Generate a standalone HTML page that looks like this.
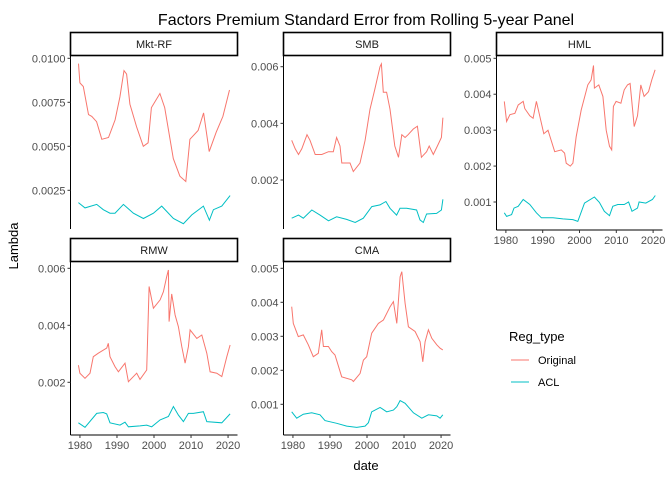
<!DOCTYPE html>
<html><head><meta charset="utf-8"><style>
body{margin:0;background:#fff;}
svg text{font-family:"Liberation Sans",Arial,sans-serif;}
</style></head><body>
<svg id="chart" width="672" height="480" viewBox="0 0 672 480" xmlns="http://www.w3.org/2000/svg">
<rect width="672" height="480" fill="#fff"/>
<text x="366" y="25" font-size="16" text-anchor="middle" fill="#000">Factors Premium Standard Error from Rolling 5-year Panel</text>
<text transform="translate(18,246) rotate(-90)" font-size="13" text-anchor="middle" fill="#000">Lambda</text>
<text x="366" y="470" font-size="13" text-anchor="middle" fill="#000">date</text>
<g>
<text x="509" y="341" font-size="13" fill="#000">Reg_type</text>
<line x1="511" x2="529" y1="360" y2="360" stroke="#F8766D" stroke-width="1"/>
<text x="538" y="364" font-size="11" fill="#000">Original</text>
<line x1="511" x2="529" y1="382" y2="382" stroke="#00BFC4" stroke-width="1"/>
<text x="538" y="386" font-size="11" fill="#000">ACL</text>
</g>
<g id="panels"></g>
</svg>
<script>
const xTicks = [1980, 1990, 2000, 2010, 2020];
const panelNames = ["Mkt-RF", "SMB", "HML", "RMW", "CMA"];
const yTicksMkt = [0.0025, 0.005, 0.0075, 0.01];
const yTickLabelsMkt = ["0.0025", "0.0050", "0.0075", "0.0100"];
const yTicksSMB = [0.002, 0.004, 0.006];
const yTicksHML = [0.001, 0.002, 0.003, 0.004, 0.005];
const yTicksRMW = [0.002, 0.004, 0.006];
const yTicksCMA = [0.001, 0.002, 0.003, 0.004, 0.005];

const mktOrigDates = [1979.6,1980.0,1980.9,1982.3,1983.2,1984.5,1985.9,1987.7,1989.5,1990.8,1991.9,1992.6,1993.5,1995.3,1997.1,1998.4,1999.3,2001.6,2002.9,2005.2,2007.0,2008.6,2009.7,2011.9,2013.4,2014.9,2016.8,2018.6,2020.4];
const mktOrigVals = [0.0097,0.0086,0.0084,0.0068,0.0067,0.0064,0.0054,0.0055,0.0065,0.0078,0.0093,0.0091,0.0074,0.0061,0.0050,0.0052,0.0072,0.0080,0.0072,0.0043,0.0033,0.0030,0.0054,0.0059,0.0069,0.0047,0.0058,0.0067,0.0082];
const mktAclDates = [1979.57,1981.37,1984.52,1986.32,1988.13,1989.48,1991.73,1994.43,1997.13,1999.84,2002.09,2005.24,2007.95,2010.2,2013.35,2014.97,2016.05,2018.31,2020.55];
const mktAclVals = [0.0018,0.0015,0.0017,0.0014,0.0012,0.0012,0.0017,0.0012,0.0009,0.0012,0.0016,0.0009,0.0006,0.0011,0.0016,0.0008,0.0014,0.0016,0.0022];

const smbOrigDates = [1979.66,1980.6,1981.5,1982.4,1983.8,1984.6,1986.0,1987.8,1989.6,1990.9,1991.8,1992.7,1993.2,1995.4,1996.3,1998.1,1999.5,2000.8,2002.1,2003.5,2003.9,2004.4,2005.3,2006.2,2007.5,2008.5,2009.4,2010.3,2011.1,2012.5,2013.6,2014.7,2016.1,2016.8,2017.9,2019.0,2020.1,2020.5];
const smbOrigVals = [0.0034,0.0031,0.0029,0.0031,0.0036,0.0034,0.0029,0.0029,0.0030,0.0030,0.0035,0.0032,0.0026,0.0026,0.0023,0.0026,0.0034,0.0045,0.0052,0.0060,0.0061,0.0051,0.0051,0.0045,0.0032,0.0028,0.0036,0.0035,0.0036,0.0038,0.0039,0.0028,0.0030,0.0032,0.0029,0.0032,0.0035,0.0042];
const smbAclDates = [1979.66,1981.5,1982.8,1985.1,1987.3,1989.6,1991.8,1994.5,1996.8,1999.0,2001.3,2003.5,2005.1,2006.2,2008.0,2008.9,2010.7,2013.4,2014.3,2015.2,2016.1,2018.8,2020.1,2020.5];
const smbAclVals = [0.00065,0.00076,0.00065,0.00094,0.00076,0.00056,0.0007,0.00061,0.0005,0.00065,0.00106,0.00112,0.00124,0.001,0.00076,0.001,0.001,0.00094,0.00059,0.0005,0.0008,0.00082,0.00094,0.00132];

const hmlOrigDates = [1979.57,1980.2,1981.1,1982.45,1983.35,1984.7,1985.15,1986.5,1987.4,1988.3,1989.2,1990.3,1991.45,1993.25,1995.05,1995.95,1996.4,1997.5,1998.2,1999.1,2000.45,2002.25,2003.15,2003.8,2004.05,2005.25,2006.35,2007.25,2008.15,2008.75,2009.2,2009.95,2011.25,2012.15,2013.05,2013.75,2014.85,2015.75,2016.65,2017.55,2018.75,2019.65,2020.55];
const hmlOrigVals = [0.0038,0.00324,0.00343,0.00347,0.0037,0.0038,0.0036,0.0034,0.00333,0.0038,0.0034,0.0029,0.003,0.0024,0.00245,0.00236,0.00208,0.002,0.00208,0.00282,0.00356,0.00426,0.0044,0.0048,0.00417,0.00426,0.00394,0.003,0.00255,0.00245,0.00366,0.0038,0.00375,0.00412,0.00426,0.0043,0.0031,0.0034,0.00426,0.00394,0.00407,0.0044,0.00468];
const hmlAclDates = [1979.57,1980.2,1981.55,1982.2,1983.35,1984.7,1986.5,1988.3,1989.65,1992.8,1995.5,1998.2,1999.55,2001.35,2004.05,2005.4,2006.75,2008.15,2009.05,2010.4,2012.15,2013.35,2014.25,2015.75,2016.2,2018.0,2019.8,2020.6];
const hmlAclVals = [0.0007,0.0006,0.00065,0.00083,0.00088,0.00107,0.00093,0.0007,0.00056,0.00056,0.00053,0.00051,0.00046,0.00097,0.00114,0.00099,0.00074,0.00062,0.00088,0.00093,0.00093,0.001,0.00074,0.00083,0.001,0.00097,0.00107,0.00118];

const rmwOrigDates = [1979.57,1980.0,1981.37,1982.72,1983.62,1984.97,1987.22,1987.67,1988.13,1989.48,1990.38,1992.18,1993.08,1995.33,1996.23,1998.04,1998.67,1999.84,2001.64,2002.54,2003.44,2003.89,2004.07,2004.79,2005.69,2006.59,2007.5,2008.4,2009.3,2009.75,2011.55,2012.9,2014.25,2015.15,2016.95,2018.31,2019.66,2020.55];
const rmwOrigVals = [0.0026,0.00232,0.00214,0.00232,0.0029,0.00302,0.0032,0.00337,0.0029,0.00255,0.00237,0.00267,0.00202,0.00232,0.0021,0.00243,0.00536,0.0046,0.00489,0.00518,0.00571,0.00594,0.00413,0.0051,0.00436,0.00395,0.00325,0.00267,0.00325,0.00384,0.00354,0.00366,0.00302,0.00237,0.00232,0.0022,0.0029,0.00331];
const rmwAclDates = [1979.57,1981.37,1984.52,1986.32,1987.22,1988.13,1990.83,1992.18,1993.08,1996.23,1998.04,1999.39,2001.64,2003.89,2005.24,2006.59,2007.95,2009.3,2010.65,2013.35,2014.25,2018.31,2020.55];
const rmwAclVals = [0.00058,0.00042,0.00091,0.00094,0.00089,0.00058,0.0005,0.0006,0.00044,0.00047,0.0005,0.00044,0.00068,0.0008,0.00115,0.00085,0.00062,0.00091,0.00091,0.00097,0.00062,0.00058,0.00089];

const cmaOrigDates = [1979.66,1980.1,1981.46,1982.81,1984.16,1985.51,1986.86,1987.77,1988.22,1989.57,1990.47,1991.37,1993.17,1995.87,1996.32,1998.13,1999.03,1999.93,2001.28,2003.08,2004.43,2006.23,2007.13,2008.04,2008.94,2009.39,2010.29,2011.19,2012.99,2014.34,2015.06,2015.69,2016.59,2017.5,2018.85,2019.75,2020.47];
const cmaOrigVals = [0.00387,0.00338,0.00299,0.00304,0.00275,0.0024,0.0025,0.00319,0.0027,0.0027,0.00255,0.00245,0.00181,0.00172,0.00167,0.00191,0.0023,0.0024,0.00309,0.00338,0.00348,0.00387,0.00402,0.00338,0.00475,0.0049,0.00397,0.00328,0.00314,0.00284,0.00225,0.00284,0.00319,0.00294,0.00275,0.00265,0.0026];
const cmaAclDates = [1979.66,1981.01,1982.81,1985.06,1987.31,1988.67,1991.82,1994.52,1997.22,1999.48,2000.38,2001.28,2003.53,2005.33,2007.13,2008.04,2008.94,2010.29,2012.54,2014.8,2016.59,2018.85,2019.75,2020.47];
const cmaAclVals = [0.00078,0.00059,0.00071,0.00075,0.00069,0.00052,0.00044,0.00036,0.00032,0.00036,0.00046,0.00078,0.00091,0.00078,0.00083,0.00093,0.00111,0.00103,0.00075,0.00059,0.00069,0.00066,0.00059,0.00069];

const NS = "http://www.w3.org/2000/svg";
const X_MIN = 1977.45, X_MAX = 2022.55;
const layout = [
  {name:panelNames[0], x0:70.5, x1:237.5, y0:56, y1:229, ticks:yTicksMkt, labels:yTickLabelsMkt, tv:[0.0025,0.01], ty:[190.3,58.3], xAxis:false, orig:[mktOrigDates,mktOrigVals], acl:[mktAclDates,mktAclVals]},
  {name:panelNames[1], x0:283.5, x1:450.5, y0:56, y1:229, ticks:yTicksSMB, labels:null, tv:[0.002,0.006], ty:[180,66.7], xAxis:false, orig:[smbOrigDates,smbOrigVals], acl:[smbAclDates,smbAclVals]},
  {name:panelNames[2], x0:496.5, x1:662.5, y0:56, y1:230, ticks:yTicksHML, labels:null, tv:[0.001,0.005], ty:[202,58.3], xAxis:true, orig:[hmlOrigDates,hmlOrigVals], acl:[hmlAclDates,hmlAclVals]},
  {name:panelNames[3], x0:70.5, x1:237.5, y0:262, y1:435, ticks:yTicksRMW, labels:null, tv:[0.002,0.006], ty:[382.3,268.3], xAxis:true, orig:[rmwOrigDates,rmwOrigVals], acl:[rmwAclDates,rmwAclVals]},
  {name:panelNames[4], x0:283.5, x1:450.5, y0:262, y1:435, ticks:yTicksCMA, labels:null, tv:[0.001,0.005], ty:[404.3,268.3], xAxis:true, orig:[cmaOrigDates,cmaOrigVals], acl:[cmaAclDates,cmaAclVals]}
];
const root = document.getElementById('panels');
function mk(tag, attrs, parent){const e=document.createElementNS(NS,tag);for(const k in attrs)e.setAttribute(k,attrs[k]);parent.appendChild(e);return e;}
layout.forEach(p=>{
  const slug = p.name.toLowerCase().replace(/[^a-z]/g,'');
  const g = mk('g',{},root);
  
  
  const xs = v => p.x0 + (v - X_MIN) / (X_MAX - X_MIN) * (p.x1 - p.x0);
  const ys = v => p.ty[0] + (v - p.tv[0]) / (p.tv[1] - p.tv[0]) * (p.ty[1] - p.ty[0]);
  const strip = mk('rect',{x:p.x0, y:p.y0-23.5, width:p.x1-p.x0, height:23, fill:'#fff', stroke:'#000','stroke-width':1.6},g);
  
  
  const st = mk('text',{x:(p.x0+p.x1)/2, y:p.y0-8, 'font-size':11, 'text-anchor':'middle', fill:'#1a1a1a'},g);
  st.textContent = p.name;
  
  
  const ya = mk('line',{x1:p.x0, x2:p.x0, y1:p.y0, y2:p.y1, stroke:'#000','stroke-width':1},g);
  
  
  p.ticks.forEach((t,i)=>{
    const y = ys(t);
    mk('line',{x1:p.x0-3, x2:p.x0, y1:y, y2:y, stroke:'#333','stroke-width':1},g);
    const tl = mk('text',{x:p.x0-5, y:y+4, 'font-size':11, 'text-anchor':'end', fill:'#4d4d4d'},g);
    tl.textContent = p.labels ? p.labels[i] : t.toFixed(3);
    
    
  });
  if (p.xAxis) {
    const xa = mk('line',{x1:p.x0, x2:p.x1, y1:p.y1, y2:p.y1, stroke:'#000','stroke-width':1},g);
    
    
    xTicks.forEach(t=>{
      const x = xs(t);
      mk('line',{x1:x, x2:x, y1:p.y1, y2:p.y1+3, stroke:'#333','stroke-width':1},g);
      const tl = mk('text',{x:x, y:p.y1+14, 'font-size':11, 'text-anchor':'middle', fill:'#4d4d4d'},g);
      tl.textContent = t;
      
      
    });
  }
  [['orig','#F8766D','original'],['acl','#00BFC4','acl']].forEach(([k,c,n])=>{
    const [d,v] = p[k];
    const pts = d.map((dt,i)=>xs(dt).toFixed(1)+','+ys(v[i]).toFixed(1)).join(' ');
    const pl = mk('polyline',{points:pts, fill:'none', stroke:c, 'stroke-width':1},g);
    
    
  });
});
</script>
</body></html>
